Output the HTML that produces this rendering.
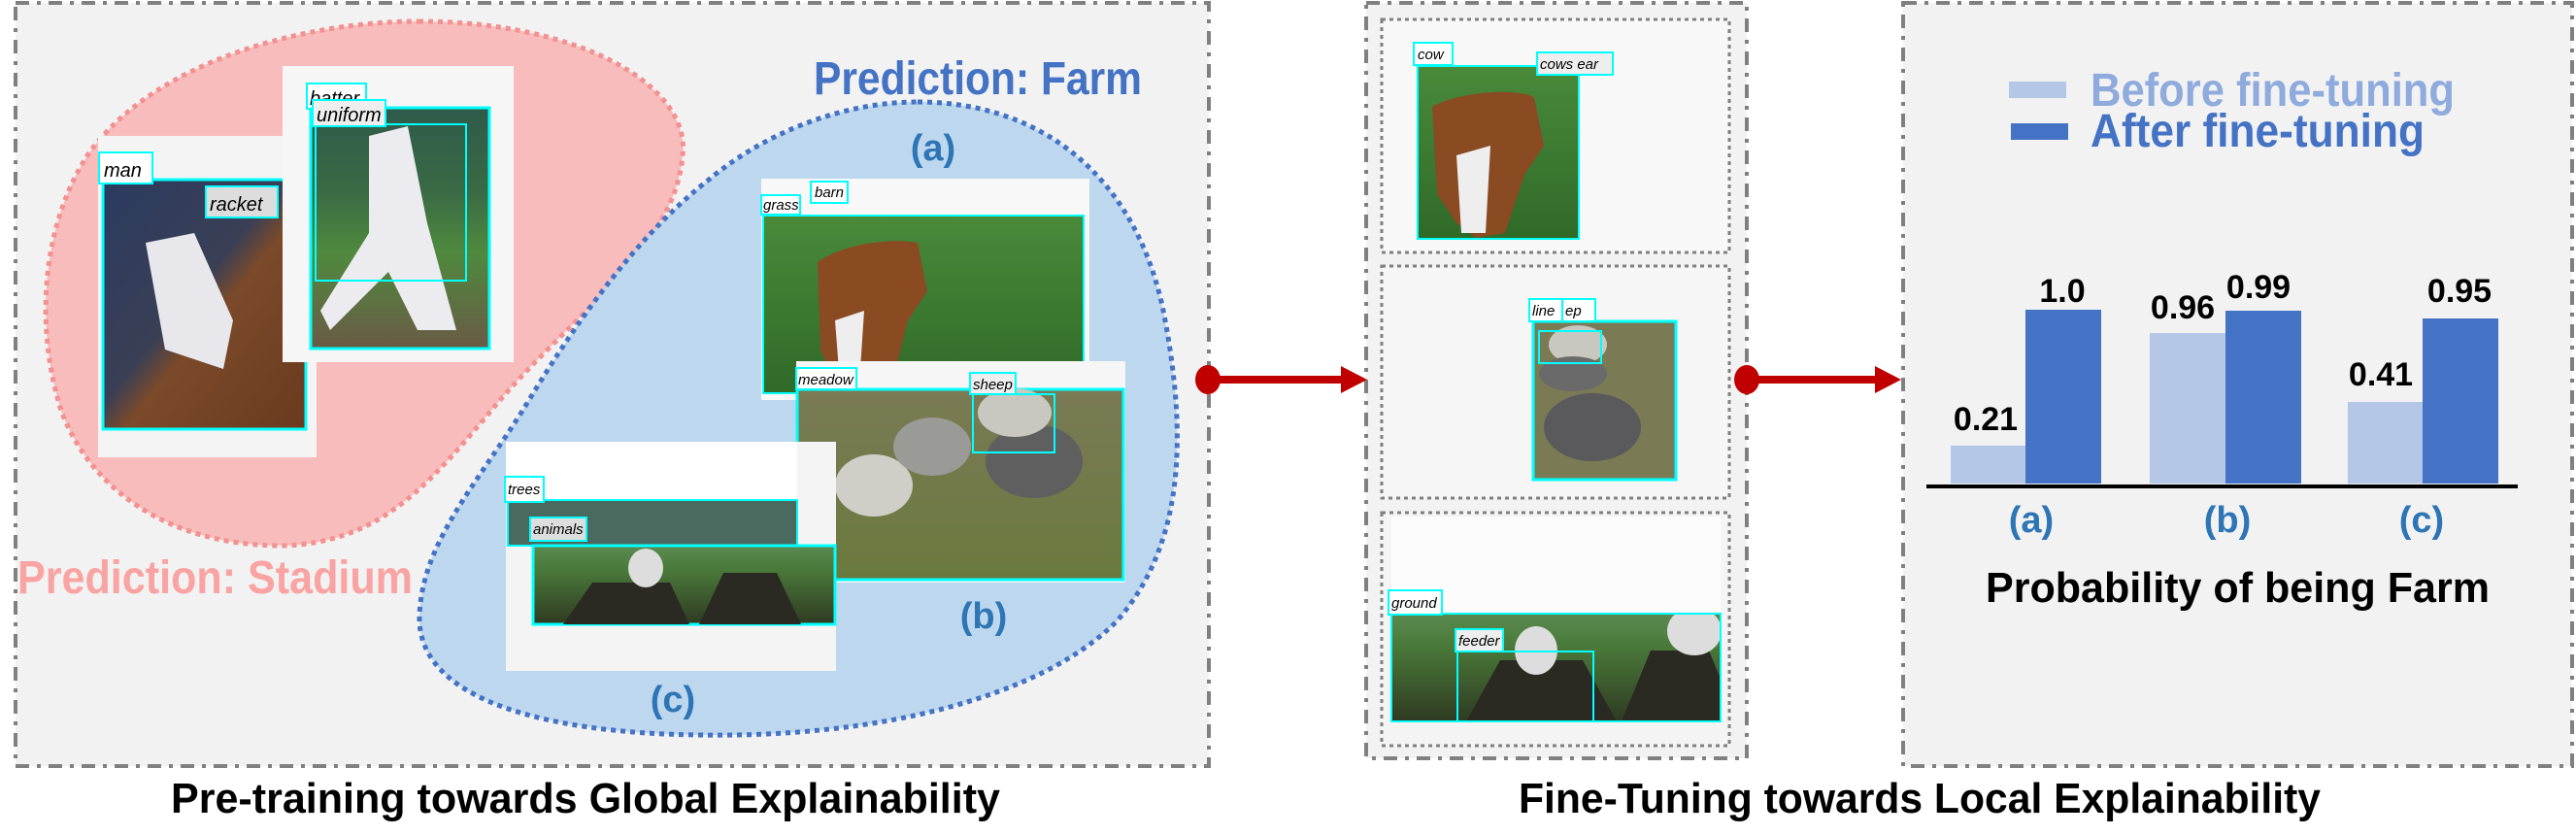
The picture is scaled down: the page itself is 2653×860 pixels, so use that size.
<!DOCTYPE html>
<html><head><meta charset="utf-8"><style>
html,body{margin:0;padding:0;background:#fff;}
svg{display:block;}
text{font-family:"Liberation Sans",sans-serif;}
.lab{font-style:italic;font-size:20px;fill:#000;}
.sl{font-style:italic;font-size:15px;fill:#000;}
</style></head><body>
<svg width="2653" height="860" viewBox="0 0 2653 860" xmlns="http://www.w3.org/2000/svg">
<defs>
<linearGradient id="ten" x1="0" y1="0" x2="1" y2="1"><stop offset="0" stop-color="#2a3a60"/><stop offset="0.45" stop-color="#3a3f55"/><stop offset="0.55" stop-color="#7a4a2a"/><stop offset="1" stop-color="#6a3a1e"/></linearGradient>
<linearGradient id="bb" x1="0" y1="0" x2="0" y2="1"><stop offset="0" stop-color="#2f5a4a"/><stop offset="0.35" stop-color="#3a6a44"/><stop offset="0.6" stop-color="#4f8a3e"/><stop offset="1" stop-color="#6a5a45"/></linearGradient>
<linearGradient id="grass" x1="0" y1="0" x2="0" y2="1"><stop offset="0" stop-color="#4a8a3a"/><stop offset="1" stop-color="#2f6a28"/></linearGradient>
<linearGradient id="mead" x1="0" y1="0" x2="0" y2="1"><stop offset="0" stop-color="#7a7a55"/><stop offset="1" stop-color="#6a7a3e"/></linearGradient>
<linearGradient id="feed" x1="0" y1="0" x2="0" y2="1"><stop offset="0" stop-color="#5a8a50"/><stop offset="0.3" stop-color="#4a7a3a"/><stop offset="1" stop-color="#2f3a22"/></linearGradient>
<clipPath id="mf"><rect x="1433" y="632" width="339" height="111"/></clipPath>
</defs>
<rect width="2653" height="860" fill="#fff"/>
<!-- panels -->
<rect x="16" y="3" width="1229" height="786" fill="#f2f2f2" stroke="#808080" stroke-width="4" stroke-dasharray="14 8 4 8"/>
<rect x="1407" y="3" width="392" height="778" fill="#f2f2f2" stroke="#808080" stroke-width="4" stroke-dasharray="14 8 4 8"/>
<rect x="1960" y="3" width="689" height="786" fill="#f2f2f2" stroke="#808080" stroke-width="4" stroke-dasharray="14 8 4 8"/>

<!-- pink blob -->
<path d="M431 22 C600 22,712 90,703 160 C695 260,580 330,500 430 C440 500,390 560,290 562 C170 562,90 500,62 420 C35 330,45 230,90 160 C160 60,320 22,431 22 Z" fill="#f8bcbc" stroke="#f39090" stroke-width="5" stroke-dasharray="5 5"/>
<!-- blue blob -->
<path d="M945 105 C1080 105,1175 190,1200 330 C1222 450,1220 560,1150 640 C1070 720,900 760,720 757 C560 755,430 720,432 635 C434 560,490 500,540 420 C600 320,660 240,730 185 C790 135,870 105,945 105 Z" fill="#bdd7ee" stroke="#4472c4" stroke-width="5" stroke-dasharray="5 5"/>

<text x="838" y="97" font-size="48" font-weight="bold" fill="#4472c4" textLength="338" lengthAdjust="spacingAndGlyphs">Prediction: Farm</text>
<text x="18" y="611" font-size="48" font-weight="bold" fill="#f9a3a3" textLength="407" lengthAdjust="spacingAndGlyphs">Prediction: Stadium</text>
<text x="961" y="165" font-size="38" font-weight="bold" fill="#2e75b6" text-anchor="middle">(a)</text>
<text x="1013" y="647" font-size="38" font-weight="bold" fill="#2e75b6" text-anchor="middle">(b)</text>
<text x="693" y="733" font-size="38" font-weight="bold" fill="#2e75b6" text-anchor="middle">(c)</text>

<!-- tennis -->
<rect x="101" y="140" width="225" height="331" fill="#f4f4f4"/>
<rect x="106" y="185" width="209" height="257" fill="url(#ten)" stroke="#00ffff" stroke-width="3"/>
<path d="M150 250 L200 240 L240 330 L230 380 L170 360 Z" fill="#e8e8ec"/>
<rect x="102" y="157" width="55" height="32" fill="#fff" stroke="#00ffff" stroke-width="2"/>
<text class="lab" x="107" y="182">man</text>
<rect x="212" y="192" width="74" height="32" fill="#ddd" stroke="#00ffff" stroke-width="2"/>
<text class="lab" x="216" y="217">racket</text>
<!-- baseball -->
<rect x="291" y="68" width="238" height="305" fill="#f6f6f6"/>
<rect x="320" y="111" width="184" height="248" fill="url(#bb)" stroke="#00ffff" stroke-width="3"/>
<path d="M380 140 L420 130 L440 230 L470 340 L430 340 L400 280 L340 340 L330 320 L380 240 Z" fill="#ececf0"/>
<rect x="325" y="128" width="155" height="161" fill="none" stroke="#00ffff" stroke-width="2"/>
<rect x="316" y="86" width="61" height="26" fill="#fff" stroke="#00ffff" stroke-width="2"/>
<text class="lab" x="319" y="108">batter</text>
<rect x="322" y="103" width="75" height="27" fill="#eee" stroke="#00ffff" stroke-width="2"/>
<text class="lab" x="326" y="125">uniform</text>

<!-- (a) cow -->
<rect x="784" y="184" width="338" height="228" fill="#f8f8f8"/>
<rect x="786" y="222" width="330" height="183" fill="url(#grass)" stroke="#00ffff" stroke-width="2"/>
<path d="M842 270 C870 250,920 245,945 250 L955 300 L935 330 L920 390 L885 405 L860 395 L845 360 Z" fill="#8a4a22"/>
<path d="M860 330 L890 320 L885 395 L865 395 Z" fill="#eee"/>
<rect x="784" y="201" width="40" height="20" fill="#fff" stroke="#00ffff" stroke-width="2"/>
<text class="sl" x="786" y="216">grass</text>
<rect x="835" y="187" width="38" height="22" fill="#fff" stroke="#00ffff" stroke-width="2"/>
<text class="sl" x="839" y="203">barn</text>

<!-- (b) sheep -->
<rect x="820" y="372" width="339" height="228" fill="#f6f6f6"/>
<rect x="821" y="401" width="336" height="196" fill="url(#mead)" stroke="#00ffff" stroke-width="3"/>
<ellipse cx="900" cy="500" rx="40" ry="32" fill="#cfcfc8"/>
<ellipse cx="960" cy="460" rx="40" ry="30" fill="#9a9a96"/>
<ellipse cx="1065" cy="475" rx="50" ry="38" fill="#5f5f60"/>
<ellipse cx="1045" cy="425" rx="38" ry="25" fill="#c8c8c0"/>
<rect x="1002" y="406" width="84" height="60" fill="none" stroke="#00ffff" stroke-width="2"/>
<rect x="820" y="379" width="62" height="22" fill="#fff" stroke="#00ffff" stroke-width="2"/>
<text class="sl" x="822" y="396">meadow</text>
<rect x="999" y="384" width="47" height="22" fill="#eee" stroke="#00ffff" stroke-width="2"/>
<text class="sl" x="1002" y="401">sheep</text>

<!-- (c) feeder -->
<rect x="521" y="455" width="340" height="236" fill="#f4f4f4"/>
<rect x="521" y="455" width="300" height="60" fill="#fff"/>
<rect x="523" y="515" width="298" height="47" fill="#4a6a60" stroke="#00ffff" stroke-width="2"/>
<rect x="549" y="562" width="311" height="81" fill="url(#feed)" stroke="#00ffff" stroke-width="3"/>
<path d="M580 643 L610 600 L690 600 L710 643 Z M720 643 L745 590 L800 590 L825 643 Z" fill="#2a2a22"/>
<ellipse cx="665" cy="585" rx="18" ry="20" fill="#ddd"/>
<rect x="520" y="491" width="40" height="26" fill="#fff" stroke="#00ffff" stroke-width="2"/>
<text class="sl" x="523" y="509">trees</text>
<rect x="546" y="533" width="58" height="24" fill="#ddd" stroke="#00ffff" stroke-width="2"/>
<text class="sl" x="549" y="550">animals</text>

<!-- middle boxes -->
<rect x="1423" y="20" width="358" height="240" fill="#f8f8f8" stroke="#808080" stroke-width="3" stroke-dasharray="4 4"/>
<rect x="1423" y="274" width="358" height="239" fill="#f6f6f6" stroke="#808080" stroke-width="3" stroke-dasharray="4 4"/>
<rect x="1423" y="528" width="358" height="240" fill="#f4f4f4" stroke="#808080" stroke-width="3" stroke-dasharray="4 4"/>
<rect x="1433" y="532" width="339" height="100" fill="#fcfcfc"/>
<!-- mid cow -->
<rect x="1460" y="68" width="166" height="178" fill="url(#grass)" stroke="#00ffff" stroke-width="2"/>
<path d="M1475 110 C1500 95,1560 90,1580 100 L1590 150 L1570 180 L1550 240 L1520 245 L1500 230 L1480 200 Z" fill="#8a4a22"/>
<path d="M1500 160 L1535 150 L1530 240 L1505 240 Z" fill="#eee"/>
<rect x="1456" y="44" width="40" height="23" fill="#fff" stroke="#00ffff" stroke-width="2"/>
<text class="sl" x="1460" y="61">cow</text>
<rect x="1583" y="54" width="78" height="23" fill="#eee" stroke="#00ffff" stroke-width="2"/>
<text class="sl" x="1586" y="71">cows ear</text>
<!-- mid sheep -->
<rect x="1579" y="331" width="147" height="163" fill="#7a7a55" stroke="#00ffff" stroke-width="3"/>
<ellipse cx="1625" cy="355" rx="30" ry="20" fill="#c8c8c0"/>
<ellipse cx="1620" cy="385" rx="35" ry="18" fill="#6a6a6a"/>
<ellipse cx="1640" cy="440" rx="50" ry="35" fill="#5a5a5c"/>
<rect x="1585" y="341" width="64" height="33" fill="none" stroke="#00ffff" stroke-width="2"/>
<rect x="1575" y="308" width="40" height="23" fill="#fff" stroke="#00ffff" stroke-width="2"/>
<text class="sl" x="1578" y="325">line</text>
<rect x="1609" y="308" width="34" height="23" fill="#fff" stroke="#00ffff" stroke-width="2"/>
<text class="sl" x="1612" y="325">ep</text>
<!-- mid feeder -->
<rect x="1433" y="632" width="339" height="111" fill="url(#feed)"/>
<g clip-path="url(#mf)">
<path d="M1510 743 L1545 680 L1630 680 L1665 743 Z M1670 743 L1700 670 L1760 670 L1790 743 Z" fill="#2a2a22"/>
<ellipse cx="1582" cy="670" rx="22" ry="25" fill="#ddd"/>
<ellipse cx="1745" cy="650" rx="28" ry="25" fill="#ddd"/>
</g>
<rect x="1433" y="632" width="339" height="111" fill="none" stroke="#00ffff" stroke-width="2"/>
<rect x="1501" y="671" width="140" height="72" fill="none" stroke="#00ffff" stroke-width="2"/>
<rect x="1430" y="608" width="55" height="25" fill="#fff" stroke="#00ffff" stroke-width="2"/>
<text class="sl" x="1433" y="626">ground</text>
<rect x="1499" y="648" width="49" height="23" fill="#eee" stroke="#00ffff" stroke-width="2"/>
<text class="sl" x="1502" y="665">feeder</text>

<!-- arrows -->
<g fill="#c00000">
<ellipse cx="1244" cy="391" rx="13" ry="15"/>
<rect x="1244" y="387" width="140" height="8"/>
<polygon points="1381,377 1408,391 1381,405"/>
<ellipse cx="1799" cy="391" rx="13" ry="15"/>
<rect x="1799" y="387" width="135" height="8"/>
<polygon points="1931,377 1958,391 1931,405"/>
</g>

<!-- chart -->
<rect x="2069" y="84" width="59" height="17" fill="#b4c7e7"/>
<rect x="2071" y="127" width="59" height="17" fill="#4472c4"/>
<text x="2153" y="109" font-size="48" font-weight="bold" fill="#8faadc" textLength="375" lengthAdjust="spacingAndGlyphs">Before fine-tuning</text>
<text x="2153" y="151" font-size="48" font-weight="bold" fill="#4472c4" textLength="344" lengthAdjust="spacingAndGlyphs">After fine-tuning</text>

<rect x="2009" y="459" width="77" height="39" fill="#b4c7e7"/>
<rect x="2086" y="319" width="78" height="179" fill="#4472c4"/>
<rect x="2214" y="343" width="78" height="155" fill="#b4c7e7"/>
<rect x="2292" y="320" width="78" height="178" fill="#4472c4"/>
<rect x="2418" y="414" width="77" height="84" fill="#b4c7e7"/>
<rect x="2495" y="328" width="78" height="170" fill="#4472c4"/>
<rect x="1984" y="499" width="609" height="4" fill="#000"/>
<g font-size="34" font-weight="bold" fill="#000" text-anchor="middle">
<text x="2045" y="443">0.21</text>
<text x="2124" y="311">1.0</text>
<text x="2248" y="328">0.96</text>
<text x="2326" y="307">0.99</text>
<text x="2452" y="397">0.41</text>
<text x="2533" y="311">0.95</text>
</g>
<g font-size="38" font-weight="bold" fill="#2e75b6" text-anchor="middle">
<text x="2092" y="548">(a)</text>
<text x="2294" y="548">(b)</text>
<text x="2494" y="548">(c)</text>
</g>
<text x="2045" y="620" font-size="44" font-weight="bold" fill="#000" textLength="519" lengthAdjust="spacingAndGlyphs">Probability of being Farm</text>

<!-- titles -->
<text x="176" y="837" font-size="44" font-weight="bold" fill="#000" textLength="854" lengthAdjust="spacingAndGlyphs">Pre-training towards Global Explainability</text>
<text x="1564" y="837" font-size="44" font-weight="bold" fill="#000" textLength="826" lengthAdjust="spacingAndGlyphs">Fine-Tuning towards Local Explainability</text>
</svg>
</body></html>
